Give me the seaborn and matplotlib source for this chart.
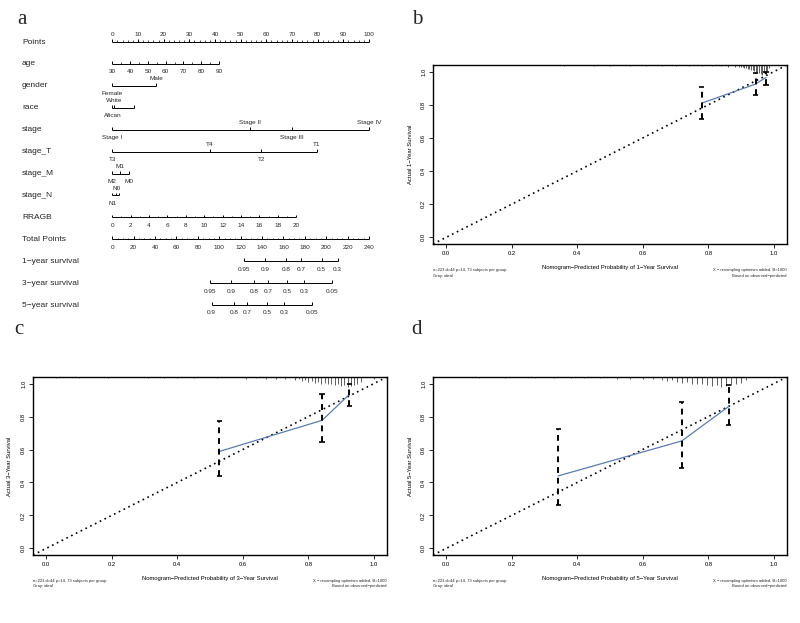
import numpy as np
import pandas as pd
import matplotlib
matplotlib.use("Agg")
import matplotlib.pyplot as plt
import seaborn as sns

sns.set_theme(style="white")
plt.rcParams['font.family'] = ['Liberation Sans', 'DejaVu Sans']

# ---------------- nomogram data (panel a) ----------------
row_names = ["Points", "age", "gender", "race", "stage", "stage_T", "stage_M",
             "stage_N", "RRAGB", "Total Points", "1\u2212year survival",
             "3\u2212year survival", "5\u2212year survival"]

points_labels = [0, 10, 20, 30, 40, 50, 60, 70, 80, 90, 100]

age_labels = ["30", "40", "50", "60", "70", "80", "90"]
age_points = [0, 6.9, 13.9, 20.8, 27.7, 34.7, 41.6]

gender_levels = ["Female", "Male"]
gender_points = [0, 17.0]
gender_side = ["below", "above"]

race_levels = ["White", "Afican", ""]
race_points = [0.6, 0.0, 8.3]
race_side = ["above", "below", "below"]

stage_levels = ["Stage I", "Stage II", "Stage III", "Stage IV"]
stage_points = [0, 53.7, 70.0, 100]
stage_side = ["below", "above", "below", "above"]

stageT_levels = ["T3", "T4", "T2", "T1"]
stageT_points = [0, 38.0, 58.0, 79.6]
stageT_side = ["below", "above", "below", "above"]

stageM_levels = ["M2", "M1", "M0"]
stageM_points = [0, 3.1, 6.6]
stageM_side = ["below", "above", "below"]

stageN_levels = ["N1", "N0", ""]
stageN_points = [0, 1.6, 2.7]
stageN_side = ["below", "above", "below"]

rragb_labels = [0, 2, 4, 6, 8, 10, 12, 14, 16, 18, 20]
rragb_max_points = 71.6

total_labels = [0, 20, 40, 60, 80, 100, 120, 140, 160, 180, 200, 220, 240]

surv1_labels = ["0.95", "0.9", "0.8", "0.7", "0.5", "0.3"]
surv1_total = [123.4, 142.8, 162.4, 176.7, 195.8, 210.7]
surv3_labels = ["0.95", "0.9", "0.8", "0.7", "0.5", "0.3", "0.05"]
surv3_total = [91.6, 111.3, 132.5, 145.9, 163.6, 179.2, 205.7]
surv5_labels = ["0.9", "0.8", "0.7", "0.5", "0.3", "0.05"]
surv5_total = [92.9, 113.8, 126.2, 144.9, 160.5, 187.0]

# ---------------- calibration data (panels b, c, d) ----------------
b_pred = [0.780, 0.944, 0.976]
b_obs = [0.810, 0.925, 0.965]
b_lo = [0.715, 0.859, 0.920]
b_hi = [0.909, 0.989, 1.000]
b_rug_x = [0.36, 0.45, 0.50, 0.56, 0.61, 0.66, 0.70, 0.74, 0.78, 0.81, 0.84, 0.86, 0.88,
           0.895, 0.90, 0.905, 0.91, 0.915, 0.92, 0.925, 0.93, 0.935, 0.94, 0.945, 0.95,
           0.955, 0.96, 0.965, 0.97, 0.975, 0.98, 0.985]
b_rug_h = [0.006, 0.006, 0.006, 0.006, 0.006, 0.006, 0.006, 0.006, 0.006, 0.008, 0.008, 0.01, 0.01,
           0.012, 0.015, 0.012, 0.02, 0.018, 0.025, 0.022, 0.03, 0.028, 0.035, 0.04, 0.045,
           0.05, 0.055, 0.06, 0.05, 0.045, 0.035, 0.02]

c_pred = [0.528, 0.842, 0.925]
c_obs = [0.588, 0.777, 0.934]
c_lo = [0.440, 0.648, 0.867]
c_hi = [0.776, 0.934, 1.000]
c_rug_x = [0.03, 0.10, 0.19, 0.31, 0.36, 0.40, 0.45, 0.52, 0.61, 0.64, 0.67, 0.70, 0.73,
           0.76, 0.77, 0.78, 0.79, 0.80, 0.81, 0.82, 0.83, 0.84, 0.85, 0.86, 0.87, 0.88,
           0.89, 0.90, 0.91, 0.92, 0.93, 0.94, 0.95, 0.96, 1.00]
c_rug_h = [0.006, 0.006, 0.006, 0.008, 0.006, 0.008, 0.006, 0.008, 0.01, 0.008, 0.01, 0.012, 0.012,
           0.02, 0.015, 0.025, 0.02, 0.03, 0.025, 0.035, 0.03, 0.04, 0.035, 0.045, 0.04, 0.05,
           0.045, 0.055, 0.05, 0.06, 0.055, 0.05, 0.04, 0.03, 0.012]

d_pred = [0.342, 0.719, 0.862]
d_obs = [0.440, 0.652, 0.861]
d_lo = [0.264, 0.487, 0.748]
d_hi = [0.722, 0.887, 0.990]
d_rug_x = [0.10, 0.18, 0.27, 0.33, 0.38, 0.42, 0.47, 0.52, 0.56, 0.60, 0.63,
           0.66, 0.675, 0.69, 0.705, 0.72, 0.735, 0.75, 0.765, 0.78, 0.795, 0.81, 0.825,
           0.84, 0.855, 0.87, 0.885, 0.90, 0.915]
d_rug_h = [0.006, 0.006, 0.006, 0.008, 0.006, 0.008, 0.008, 0.01, 0.01, 0.012, 0.015,
           0.02, 0.025, 0.02, 0.03, 0.035, 0.03, 0.04, 0.045, 0.04, 0.05, 0.055, 0.05,
           0.06, 0.055, 0.05, 0.045, 0.035, 0.02]

W, H = 800, 623
fig = plt.figure(figsize=(W / 100, H / 100), dpi=100)


def rect(l, t, r, b):
    return [l / W, 1 - b / H, (r - l) / W, (b - t) / H]


# ================= panel a: nomogram =================
axa = fig.add_axes(rect(0, 0, 400, 330))
px_per_pt = (369.0 - 112.3) / 100.0
px_per_row = 21.92
axa.set_xlim(-112.3 / px_per_pt, (400 - 112.3) / px_per_pt)
axa.set_ylim((330 - 42) / px_per_row, -42 / px_per_row)
axa.axis("off")

LW = 0.7
TICK = 0.13
FS_ROW = 6
FS_TICK = 4.6
OFF_BELOW = 0.36
OFF_ABOVE = -0.32


def draw_axis(row, lo, hi, major_x, major_lab, minor_x=(), side="below"):
    axa.hlines(row, lo, hi, color="black", lw=LW)
    axa.vlines(major_x, row - TICK, row, color="black", lw=LW)
    if len(minor_x):
        axa.vlines(minor_x, row - TICK * 0.6, row, color="black", lw=0.5)
    off = OFF_BELOW if side == "below" else OFF_ABOVE
    for x, lab in zip(major_x, major_lab):
        axa.text(x, row + off, lab, ha="center", va="center", fontsize=FS_TICK)


def draw_cat(row, pts, levels, sides):
    axa.hlines(row, min(pts), max(pts), color="black", lw=LW)
    axa.vlines(pts, row - TICK, row, color="black", lw=LW)
    for x, lab, s in zip(pts, levels, sides):
        off = OFF_BELOW if s == "below" else OFF_ABOVE
        axa.text(x, row + off, lab, ha="center", va="center", fontsize=FS_TICK)


for i, name in enumerate(row_names):
    axa.text(-112.3 / px_per_pt + 22 / px_per_pt, i, name, ha="left", va="center",
             fontsize=FS_ROW)

# Points
pts_minor = [v + d for v in points_labels[:-1] for d in (2, 4, 6, 8)]
draw_axis(0, 0, 100, points_labels, [str(v) for v in points_labels], pts_minor, side="above")
# age
age_minor = [(a + b) / 2 for a, b in zip(age_points[:-1], age_points[1:])]
draw_axis(1, 0, age_points[-1], age_points, age_labels, age_minor)
# categorical rows
draw_cat(2, gender_points, gender_levels, gender_side)
draw_cat(3, race_points, race_levels, race_side)
draw_cat(4, stage_points, stage_levels, stage_side)
draw_cat(5, stageT_points, stageT_levels, stageT_side)
draw_cat(6, stageM_points, stageM_levels, stageM_side)
draw_cat(7, stageN_points, stageN_levels, stageN_side)
# RRAGB
rr_pts = [v / 20 * rragb_max_points for v in rragb_labels]
rr_minor = [(a + b) / 2 for a, b in zip(rr_pts[:-1], rr_pts[1:])]
draw_axis(8, 0, rragb_max_points, rr_pts, [str(v) for v in rragb_labels], rr_minor)
# Total points
tp_scale = 100 / 240
tot_pts = [v * tp_scale for v in total_labels]
tot_minor = [(v + d) * tp_scale for v in total_labels[:-1] for d in (5, 10, 15)]
draw_axis(9, 0, 100, tot_pts, [str(v) for v in total_labels], tot_minor)
# survival rows
for row, labs, tots in [(10, surv1_labels, surv1_total), (11, surv3_labels, surv3_total),
                        (12, surv5_labels, surv5_total)]:
    xs = [t * tp_scale for t in tots]
    draw_axis(row, min(xs), max(xs), xs, labs)

# ================= calibration panels =================
BLUE = "#5a7cb5"


def draw_calib(box, pred, obs, lo, hi, rug_x, rug_h, year, ntext, btext):
    l, t, r, b = box
    ax = fig.add_axes(rect(l, t, r, b))
    ax.set_xlim(-0.04, 1.04)
    ax.set_ylim(-0.04, 1.04)
    # ideal line
    ax.axline((0, 0), (1, 1), color="black", lw=1.2, ls=(0, (1, 2.2)), zorder=2)
    # spike histogram at top
    ax.vlines(rug_x, [1.04 - h for h in rug_h], 1.04, color="#444444", lw=0.6, zorder=1)
    # calibration curve
    df = pd.DataFrame({"pred": pred, "obs": obs})
    sns.lineplot(data=df, x="pred", y="obs", ax=ax, color=BLUE, lw=0.9, zorder=3)
    # error bars
    ax.vlines(pred, lo, hi, color="black", lw=1.4, ls=(0, (3, 2.5)), zorder=4)
    cap = 0.008
    ax.hlines(lo, [p - cap for p in pred], [p + cap for p in pred], color="black", lw=1.2, zorder=4)
    ax.hlines(hi, [p - cap for p in pred], [p + cap for p in pred], color="black", lw=1.2, zorder=4)

    ax.set_xticks([0, 0.2, 0.4, 0.6, 0.8, 1.0])
    ax.set_yticks([0, 0.2, 0.4, 0.6, 0.8, 1.0])
    ax.set_xticklabels(["0.0", "0.2", "0.4", "0.6", "0.8", "1.0"])
    ax.set_yticklabels(["0.0", "0.2", "0.4", "0.6", "0.8", "1.0"])
    ax.tick_params(axis="both", which="major", labelsize=4.2, length=3, width=0.6,
                   direction="out", pad=2, colors="black", left=True, bottom=True)
    plt.setp(ax.get_yticklabels(), rotation=90, va="center")
    for s in ax.spines.values():
        s.set_color("black")
        s.set_linewidth(1.0)

    bw, bh = r - l, b - t
    ax.set_xlabel("Nomogram\u2212Predicted Probability of %d\u2212Year Survival" % year,
                  fontsize=4.2, color="black", va="center")
    ax.xaxis.set_label_coords(0.5, -(267.7 - 244) / bh)
    ax.set_ylabel("Actual %d\u2212Year Survival" % year, fontsize=4.2, color="black", va="center")
    ax.yaxis.set_label_coords(-(433 - 410) / bw, 0.5)

    ax.text(0, -(270 - 244) / bh, ntext, transform=ax.transAxes, fontsize=3.0,
            ha="left", va="center")
    ax.text(0, -(275.5 - 244) / bh, "Gray: ideal", transform=ax.transAxes, fontsize=3.0,
            ha="left", va="center")
    ax.text(1, -(270 - 244) / bh, btext, transform=ax.transAxes, fontsize=3.0,
            ha="right", va="center")
    ax.text(1, -(275.5 - 244) / bh, "Based on observed\u2212predicted", transform=ax.transAxes,
            fontsize=3.0, ha="right", va="center")
    return ax


ntext = "n=223 d=44 p=14, 73 subjects per group"
draw_calib((433, 65, 787, 244), b_pred, b_obs, b_lo, b_hi, b_rug_x, b_rug_h, 1, ntext,
           "X \u2212 resampling optimism added, B=1000")
draw_calib((33, 377, 387, 555), c_pred, c_obs, c_lo, c_hi, c_rug_x, c_rug_h, 3, ntext,
           "X \u2212 resampling optimism added, B=1000")
draw_calib((433, 377, 787, 555), d_pred, d_obs, d_lo, d_hi, d_rug_x, d_rug_h, 5, ntext,
           "X \u2212 resampling optimism added, B=1000")

# panel letters
for lab, x, y in [("a", 22, 20), ("b", 417, 20), ("c", 19, 330), ("d", 417, 330)]:
    fig.text(x / W, 1 - y / H, lab, fontsize=15, family=["Liberation Serif", "DejaVu Serif"],
             ha="center", va="center")

fig.savefig("out.png", dpi=100)
